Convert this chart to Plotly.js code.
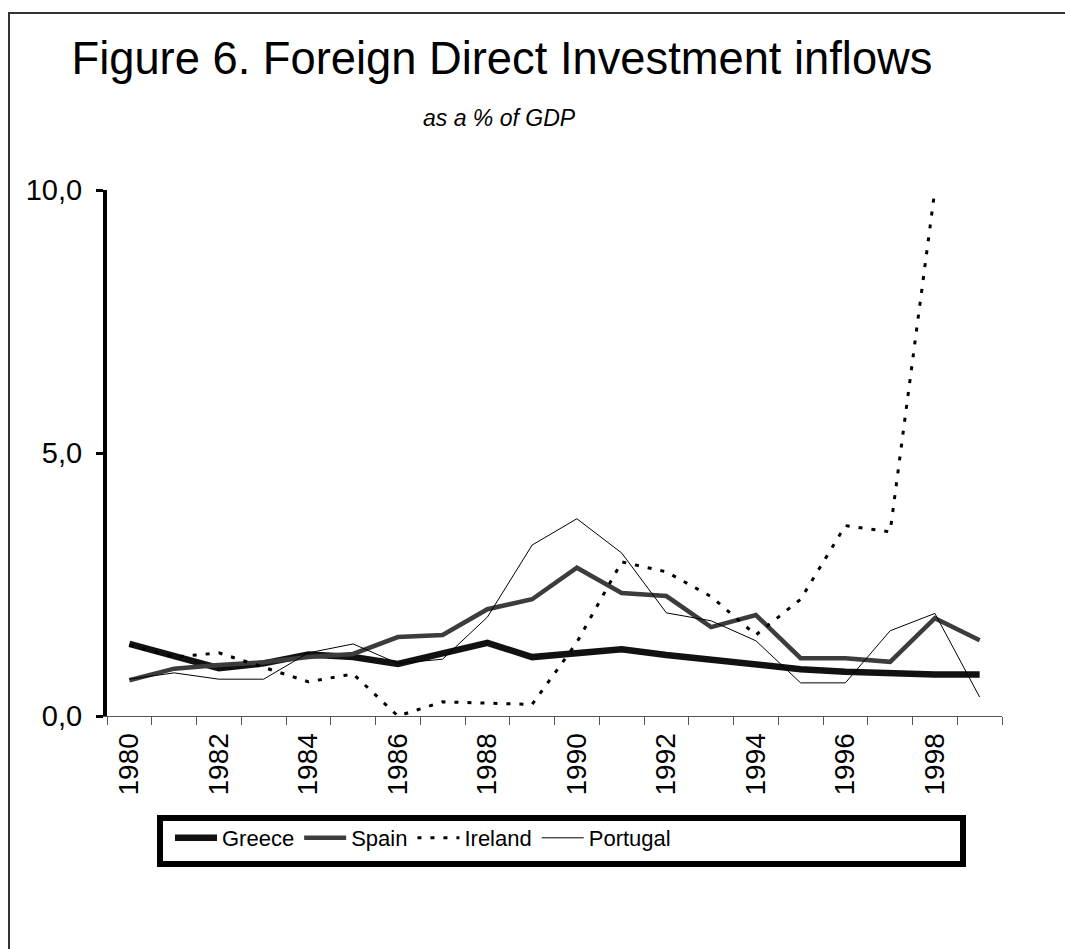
<!DOCTYPE html>
<html>
<head>
<meta charset="utf-8">
<script src="https://cdn.plot.ly/plotly-3.0.1.min.js"></script>
<style>html,body{margin:0;padding:0;background:#fff;}#chart{width:1065px;height:949px;}</style>
</head>
<body>
<div id="chart"></div>
<script>
const years = [1980,1981,1982,1983,1984,1985,1986,1987,1988,1989,1990,1991,1992,1993,1994,1995,1996,1997,1998,1999];
const greece   = [1.37,1.14,0.91,1.00,1.17,1.12,0.99,1.19,1.39,1.12,1.21,1.27,1.16,1.06,0.99,0.89,0.84,0.80,0.79,0.79];
const spain    = [0.68,0.90,0.97,1.02,1.12,1.18,1.50,1.54,2.03,2.22,2.82,2.34,2.28,1.69,1.92,1.10,1.10,1.03,1.86,1.44];
const ireland  = [1.35,1.12,1.20,0.93,0.65,0.80,0.00,0.27,0.25,0.22,1.40,2.93,2.74,2.27,1.54,2.22,3.62,3.50,10.0,null];
const portugal = [0.70,0.82,0.70,0.70,1.20,1.37,1.00,1.08,1.88,3.25,3.75,3.10,1.96,1.81,1.43,0.63,0.63,1.62,1.95,0.36];
const xLabelYears = [1980,1982,1984,1986,1988,1990,1992,1994,1996,1998];
const yTicks = [0,5,10];

const boundaries = years.map(y => y - 0.5).concat([years[years.length-1] + 0.5]);
const F = 'Arial, "Liberation Sans", sans-serif';

const traces = [
  {x: years, y: greece, name: 'Greece', type: 'scatter', mode: 'lines', line: {color: '#111111', width: 6.5}, cliponaxis: false},
  {x: years, y: spain, name: 'Spain', type: 'scatter', mode: 'lines', line: {color: '#3c3c3c', width: 4.5}, cliponaxis: false},
  {x: years, y: ireland, name: 'Ireland', type: 'scatter', mode: 'lines', line: {color: '#000000', width: 3, dash: '4px,9px'}, cliponaxis: false},
  {x: years, y: portugal, name: 'Portugal', type: 'scatter', mode: 'lines', line: {color: '#000000', width: 1}, cliponaxis: false},
  {x: years, y: years.map(() => null), xaxis: 'x2', showlegend: false, hoverinfo: 'skip', type: 'scatter', mode: 'lines'}
];

const W = 1065, H = 949, L = 107, R = 63, T = 190, B = 233;
const pw = W - L - R, ph = H - T - B;
const px = v => (v - L) / pw;
const py = v => (H - B - v) / ph;

const layout = {
  width: W, height: H,
  paper_bgcolor: '#ffffff', plot_bgcolor: 'rgba(0,0,0,0)',
  separators: ',.',
  margin: {l: L, r: R, t: T, b: B, pad: 0},
  font: {family: F, color: '#000'},
  title: {text: 'Figure 6. Foreign Direct Investment inflows', font: {family: F, size: 45.3, color: '#000'},
          x: 502 / W, xanchor: 'center', xref: 'container', y: 1 - 58 / H, yanchor: 'middle', yref: 'container'},
  xaxis: {
    range: [1979.5, 1999.5], tickmode: 'array', tickvals: xLabelYears, ticktext: xLabelYears.map(String),
    ticks: '', tickangle: -90, tickfont: {family: F, size: 28, color: '#000'}, ticklabelstandoff: 5,
    showline: true, linecolor: '#555', linewidth: 1, showgrid: false, zeroline: false, fixedrange: true
  },
  xaxis2: {
    overlaying: 'x', anchor: 'y', side: 'bottom', range: [1979.5, 1999.5],
    tickmode: 'array', tickvals: boundaries, showticklabels: false,
    ticks: 'outside', ticklen: 8, tickwidth: 1, tickcolor: '#555',
    showline: false, showgrid: false, zeroline: false
  },
  yaxis: {
    range: [0, 10], tickmode: 'array', tickvals: yTicks, tickformat: '.1f',
    ticks: 'outside', ticklen: 7, tickwidth: 3, tickcolor: '#000',
    tickfont: {family: F, size: 29, color: '#000'}, ticklabelstandoff: 8,
    showline: true, linecolor: '#000', linewidth: 4, showgrid: false, zeroline: false
  },
  showlegend: true,
  legend: {
    orientation: 'h', x: px(170), xanchor: 'left', y: py(817), yanchor: 'top',
    font: {family: F, size: 22, color: '#000'}, bgcolor: 'rgba(0,0,0,0)', borderwidth: 0,
    itemwidth: 42, traceorder: 'normal'
  },
  annotations: [
    {text: '<i>as a % of GDP</i>', xref: 'paper', yref: 'paper', x: px(499), y: py(118),
     xanchor: 'center', yanchor: 'middle', showarrow: false, font: {family: F, size: 23, color: '#000'}}
  ],
  shapes: [
    {type: 'rect', xref: 'paper', yref: 'paper', x0: px(160), x1: px(963), y0: py(864), y1: py(818),
     line: {color: '#000', width: 6}, fillcolor: 'rgba(0,0,0,0)'},
    {type: 'path', xref: 'paper', yref: 'paper',
     path: 'M ' + px(1100) + ' ' + py(13) + ' L ' + px(9) + ' ' + py(13) + ' L ' + px(9) + ' ' + py(1000),
     line: {color: '#333', width: 2}}
  ]
};

Plotly.newPlot('chart', traces, layout, {displayModeBar: false, staticPlot: true});
</script>
</body>
</html>
